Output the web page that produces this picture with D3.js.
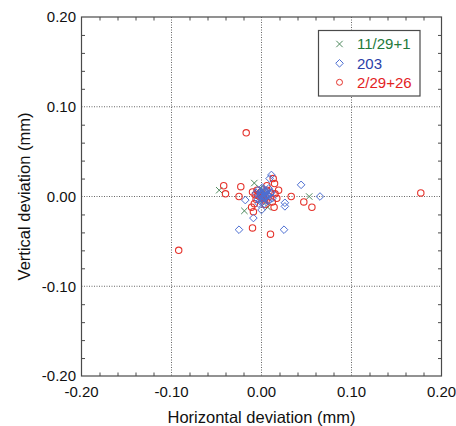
<!DOCTYPE html>
<html>
<head>
<meta charset="utf-8">
<script src="https://cdn.jsdelivr.net/npm/d3@7"></script>
<style>
  body { margin: 0; background: #fff; }
  svg text { font-family: "Liberation Sans", Arial, sans-serif; }
</style>
</head>
<body>
<div id="wrapper"></div>
<script>
// series names as in the legend
const seriesNames = ["11/29+1", "203", "2/29+26"];

// 11/29+1 (green crosses)
const crossX = [-0.047, -0.008, -0.019, 0.053, 0.007, -0.003, 0.002, -0.005, 0.004, 0.001, -0.001, 0.003, -0.002, 0.005];
const crossY = [0.007, 0.015, -0.016, 0.000, -0.012, 0.002, -0.003, 0.005, 0.001, -0.004, 0.000, 0.006, 0.009, -0.006];

// 203 (blue diamonds)
const diamondX = [0.011, 0.044, 0.065, -0.018, 0.026, 0.026, -0.009, -0.025, 0.025, 0.000, 0.009, 0.006, 0.003, -0.002, 0.001, 0.004, -0.004, 0.007, 0.002, -0.001, 0.005, 0.010, -0.006, 0.000, 0.003, 0.008, 0.012, -0.003, 0.001, 0.006, 0.002, -0.001, 0.004, 0.000, 0.005, 0.003, -0.002, 0.007, 0.001, 0.011, -0.004, 0.009];
const diamondY = [0.024, 0.013, 0.000, -0.004, -0.007, -0.011, -0.024, -0.037, -0.037, -0.015, 0.020, 0.002, 0.004, 0.001, -0.002, 0.006, -0.003, -0.005, 0.008, 0.003, -0.001, 0.003, 0.004, 0.000, -0.008, 0.009, -0.002, -0.008, 0.010, 0.006, 0.000, 0.005, -0.001, 0.002, 0.001, 0.007, -0.005, 0.002, -0.006, 0.005, 0.007, -0.004];

// 2/29+26 (red circles)
const circleX = [-0.017, -0.092, 0.177, -0.042, -0.040, -0.023, -0.025, -0.010, 0.006, 0.0145, 0.019, 0.013, 0.033, 0.047, 0.056, -0.008, -0.011, -0.009, -0.010, 0.010, 0.014, 0.017, 0.004, -0.002, -0.004, 0.002, -0.006, 0.008, 0.010, -0.005, 0.003, 0.012, 0.000, 0.006, -0.007, 0.015];
const circleY = [0.071, -0.060, 0.004, 0.012, 0.003, 0.011, 0.000, 0.005, 0.012, 0.0144, 0.007, 0.020, 0.000, -0.006, -0.012, -0.008, -0.012, -0.017, -0.035, -0.042, -0.012, -0.002, -0.009, 0.004, 0.001, 0.002, -0.003, 0.000, 0.004, 0.007, -0.004, -0.006, -0.001, 0.007, 0.002, 0.003];

const tickLabels = ["-0.20", "-0.10", "0.00", "0.10", "0.20"];

var width = 456, height = 426;
var plotLeft = 81.5, plotRight = 441.5, plotTop = 17, plotBottom = 376;

var x = d3.scaleLinear().domain([-0.2, 0.2]).range([plotLeft, plotRight]);
var y = d3.scaleLinear().domain([-0.2, 0.2]).range([plotBottom, plotTop]);

var svg = d3.select("#wrapper").append("svg")
  .attr("width", width)
  .attr("height", height);

var frameColor = "#4a4a4a";
var majors = [-0.2, -0.1, 0, 0.1, 0.2];
var minors = d3.range(-0.18, 0.2, 0.02).filter(function (v) { return Math.abs(Math.round(v * 100) % 10) > 0.5; });

// dotted grid at inner major values
svg.append("g").selectAll("line")
  .data(majors.slice(1, 4))
  .enter().append("line")
  .attr("x1", function (d) { return x(d); }).attr("x2", function (d) { return x(d); })
  .attr("y1", plotTop).attr("y2", plotBottom)
  .attr("stroke", "#666").attr("stroke-width", 1).attr("stroke-dasharray", "1,1.5");

svg.append("g").selectAll("line")
  .data(majors.slice(1, 4))
  .enter().append("line")
  .attr("y1", function (d) { return y(d); }).attr("y2", function (d) { return y(d); })
  .attr("x1", plotLeft).attr("x2", plotRight)
  .attr("stroke", "#666").attr("stroke-width", 1).attr("stroke-dasharray", "1,1.5");

// axes with inward minor ticks on all four sides
var tickLen = 3.5;
svg.append("g").attr("transform", "translate(0," + plotBottom + ")")
  .call(d3.axisTop(x).tickValues(minors).tickSize(tickLen).tickFormat(""));
svg.append("g").attr("transform", "translate(0," + plotTop + ")")
  .call(d3.axisBottom(x).tickValues(minors).tickSize(tickLen).tickFormat(""));
svg.append("g").attr("transform", "translate(" + plotLeft + ",0)")
  .call(d3.axisRight(y).tickValues(minors).tickSize(tickLen).tickFormat(""));
svg.append("g").attr("transform", "translate(" + plotRight + ",0)")
  .call(d3.axisLeft(y).tickValues(minors).tickSize(tickLen).tickFormat(""));
svg.selectAll(".domain").remove();
svg.selectAll(".tick line").attr("stroke", frameColor);
svg.selectAll(".tick text").remove();

svg.append("rect")
  .attr("x", plotLeft).attr("y", plotTop)
  .attr("width", plotRight - plotLeft).attr("height", plotBottom - plotTop)
  .attr("fill", "none").attr("stroke", frameColor).attr("stroke-width", 1.2);

// tick labels
svg.append("g").selectAll("text")
  .data(majors)
  .enter().append("text")
  .attr("x", function (d) { return x(d); })
  .attr("y", 397)
  .attr("text-anchor", "middle")
  .attr("font-size", "15px")
  .attr("fill", "#111")
  .text(function (d, i) { return tickLabels[i]; });

svg.append("g").selectAll("text")
  .data(majors)
  .enter().append("text")
  .attr("x", 76)
  .attr("y", function (d) { return y(d); })
  .attr("dy", "0.36em")
  .attr("text-anchor", "end")
  .attr("font-size", "15px")
  .attr("fill", "#111")
  .text(function (d, i) { return tickLabels[i]; });

// axis titles
svg.append("text")
  .attr("x", x(0)).attr("y", 423)
  .attr("text-anchor", "middle")
  .attr("font-size", "16.5px")
  .attr("fill", "#111")
  .text("Horizontal deviation (mm)");

svg.append("text")
  .attr("transform", "translate(30," + y(0) + ") rotate(-90)")
  .attr("text-anchor", "middle")
  .attr("font-size", "16.5px")
  .attr("fill", "#111")
  .text("Vertical deviation (mm)");

// markers
var colors = { cross: "#4f8a5e", diamond: "#4c6ed2", circle: "#e5332c" };
var crossPath = function (cx, cy) { var s = 3.2; return "M" + (cx - s) + "," + (cy - s) + "L" + (cx + s) + "," + (cy + s) + "M" + (cx - s) + "," + (cy + s) + "L" + (cx + s) + "," + (cy - s); };
var diamondPath = function (cx, cy) { var s = 3.8; return "M" + cx + "," + (cy - s) + "L" + (cx + s) + "," + cy + "L" + cx + "," + (cy + s) + "L" + (cx - s) + "," + cy + "Z"; };

var plot = svg.append("g");

plot.selectAll("path.cross")
  .data(crossX)
  .enter().append("path")
  .attr("class", "cross")
  .attr("d", function (d, i) { return crossPath(x(d), y(crossY[i])); })
  .attr("stroke", colors.cross).attr("stroke-width", 1).attr("fill", "none");

plot.selectAll("circle.pt")
  .data(circleX)
  .enter().append("circle")
  .attr("class", "pt")
  .attr("cx", function (d) { return x(d); })
  .attr("cy", function (d, i) { return y(circleY[i]); })
  .attr("r", 3.2)
  .attr("stroke", colors.circle).attr("stroke-width", 1.1).attr("fill", "none");

plot.selectAll("path.diamond")
  .data(diamondX)
  .enter().append("path")
  .attr("class", "diamond")
  .attr("d", function (d, i) { return diamondPath(x(d), y(diamondY[i])); })
  .attr("stroke", colors.diamond).attr("stroke-width", 1).attr("fill", "none");

// legend
var legend = svg.append("g");
legend.append("rect")
  .attr("x", 318.5).attr("y", 30.5).attr("width", 101.5).attr("height", 65.5)
  .attr("fill", "#fff").attr("stroke", frameColor).attr("stroke-width", 1.2);

var legendColors = ["#23793a", "#2a40a8", "#e3231f"];
var rowsY = [44, 63.3, 82.3];
seriesNames.forEach(function (name, i) {
  var cy = rowsY[i];
  if (i === 0) {
    legend.append("path").attr("d", crossPath(339.5, cy))
      .attr("stroke", colors.cross).attr("fill", "none");
  } else if (i === 1) {
    legend.append("path").attr("d", diamondPath(339.5, cy))
      .attr("stroke", colors.diamond).attr("fill", "none");
  } else {
    legend.append("circle").attr("cx", 339.5).attr("cy", cy).attr("r", 3)
      .attr("stroke", colors.circle).attr("fill", "none");
  }
  legend.append("text")
    .attr("x", 357).attr("y", cy).attr("dy", "0.36em")
    .attr("font-size", "15px")
    .attr("fill", legendColors[i])
    .text(name);
});
</script>
</body>
</html>
